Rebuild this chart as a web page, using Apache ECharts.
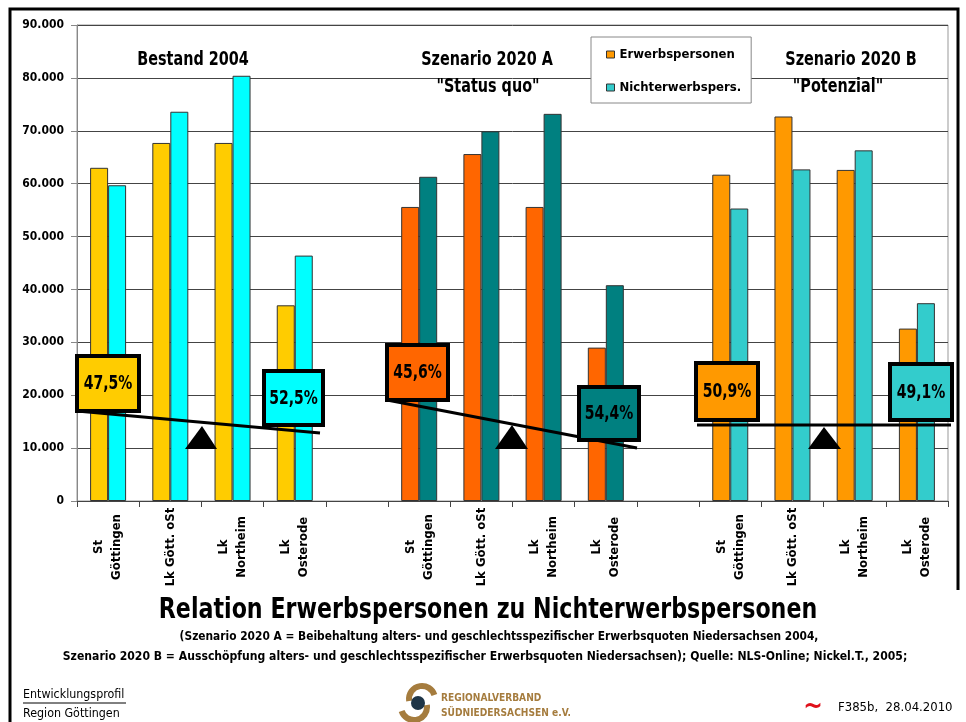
<!doctype html>
<html>
<head>
<meta charset="utf-8">
<title>Relation Erwerbspersonen zu Nichterwerbspersonen</title>
<script src="https://cdn.jsdelivr.net/npm/echarts@6/dist/echarts.min.js"></script>
<style>
	html, body {
		margin: 0;
		padding: 0;
		background: #fff;
	}
	#main {
		width: 966px;
		height: 722px;
	}
</style>
</head>
<body>
<div id="main"></div>
<script type="text/javascript">
	// categories: 3 groups of 4 districts, blank slot between groups
	var categories = [
		'St\nGöttingen', 'Lk Gött. oSt', 'Lk\nNortheim', 'Lk\nOsterode', '',
		'St\nGöttingen', 'Lk Gött. oSt', 'Lk\nNortheim', 'Lk\nOsterode', ' ',
		'St\nGöttingen', 'Lk Gött. oSt', 'Lk\nNortheim', 'Lk\nOsterode'
	];
	var erwerb = [63000, 67700, 67700, 37000, null, 55600, 65600, 55600, 29000, null, 61700, 72700, 62600, 32600];
	var nichterwerb = [59700, 73600, 80400, 46400, null, 61300, 69900, 73200, 40800, null, 55300, 62700, 66300, 37400];
	var groupTitles = [['Bestand 2004'], ['Szenario 2020 A', '"Status quo"'], ['Szenario 2020 B', '"Potenzial"']];
	var shares = [['47,5%', '52,5%'], ['45,6%', '54,4%'], ['50,9%', '49,1%']];
	var colErw = ['#FFCC00', '#FF6600', '#FF9900'];
	var colNicht = ['#00FFFF', '#008080', '#33CCCC'];

	var NARROW = "'Liberation Sans Narrow','Arial Narrow','DejaVu Sans Condensed',sans-serif";

	function groupOf(i) {
		return i < 5 ? 0 : (i < 10 ? 1 : 2);
	}

	var erwData = erwerb.map(function(v, i) {
		return v == null ? '-' : { value: v, itemStyle: { color: colErw[groupOf(i)] } };
	});
	var nichtData = nichterwerb.map(function(v, i) {
		return v == null ? '-' : { value: v, itemStyle: { color: colNicht[groupOf(i)] } };
	});

	// seesaw annotations (pixel layout)
	var seesaw = [
		{ l: [77, 356, 62, 55], r: [264, 371, 59, 54], line: [77, 411, 320, 433], tri: [202, 426, 185, 217] },
		{ l: [387, 345, 61, 55], r: [579, 387, 60, 53], line: [387, 400, 637, 448], tri: [512, 425, 495, 528] },
		{ l: [696, 363, 62, 57], r: [890, 364, 62, 56], line: [697, 425, 951, 425], tri: [824, 427, 808, 841] }
	];
	var titlePos = [[[193, 60]], [[487, 60], [488, 87]], [[851, 60], [838, 87]]];

	// condensed text helper (no narrow font available)
	function txt(x, y, s, font, sx, extra) {
		var st = { text: s, font: font, fill: '#000', align: 'center', verticalAlign: 'middle' };
		for (var k in extra || {}) st[k] = extra[k];
		return { type: 'text', z: 103, x: x, y: y, scaleX: sx, style: st };
	}

	var graphics = [];
	// outer frame
	graphics.push({
		type: 'polyline', z: 100,
		shape: { points: [[958, 590], [958, 9], [10, 9], [10, 722]] },
		style: { stroke: '#000', lineWidth: 3, fill: null }
	});
	groupTitles.forEach(function(t, g) {
		t.forEach(function(s, k) {
			graphics.push(txt(titlePos[g][k][0], titlePos[g][k][1], s, 'bold 20px ' + NARROW, 0.8));
		});
	});
	seesaw.forEach(function(s, g) {
		graphics.push({
			type: 'polygon', z: 100,
			shape: { points: [[s.tri[0], s.tri[1]], [s.tri[3], 449], [s.tri[2], 449]] },
			style: { fill: '#000' }
		});
		graphics.push({
			type: 'line', z: 101,
			shape: { x1: s.line[0], y1: s.line[1], x2: s.line[2], y2: s.line[3] },
			style: { stroke: '#000', lineWidth: 3 }
		});
		[s.l, s.r].forEach(function(b, k) {
			graphics.push({
				type: 'rect', z: 102,
				shape: { x: b[0], y: b[1], width: b[2], height: b[3] },
				style: { fill: k === 0 ? colErw[g] : colNicht[g], stroke: '#000', lineWidth: 4 }
			});
			graphics.push(txt(b[0] + b[2] / 2, b[1] + b[3] / 2 + 1, shares[g][k], 'bold 19px ' + NARROW, 0.82));
		});
	});
	// title and notes
	graphics.push(txt(488, 610, 'Relation Erwerbspersonen zu Nichterwerbspersonen', 'bold 29px ' + NARROW, 0.85));
	graphics.push(txt(499, 637, '(Szenario 2020 A = Beibehaltung alters- und geschlechtsspezifischer Erwerbsquoten Niedersachsen 2004,', 'bold 13px ' + NARROW, 0.91));
	graphics.push(txt(485, 657, 'Szenario 2020 B = Ausschöpfung alters- und geschlechtsspezifischer Erwerbsquoten Niedersachsen); Quelle: NLS-Online; Nickel.T., 2005;', 'bold 13px ' + NARROW, 0.93));
	// footer
	graphics.push(txt(23, 695, 'Entwicklungsprofil', '13px ' + NARROW, 0.95, { align: 'left' }));
	graphics.push({
		type: 'line', z: 100, shape: { x1: 23, y1: 703, x2: 126, y2: 703 },
		style: { stroke: '#000', lineWidth: 1 }
	});
	graphics.push(txt(23, 714, 'Region Göttingen', '13px ' + NARROW, 0.95, { align: 'left' }));
	// logo
	graphics.push({
		type: 'arc', z: 100, shape: { cx: 422, cy: 699, r: 13, startAngle: Math.PI * 0.95, endAngle: Math.PI * 1.9 },
		style: { stroke: '#A57C3E', lineWidth: 6, fill: null }
	});
	graphics.push({
		type: 'arc', z: 100, shape: { cx: 414, cy: 707, r: 13, startAngle: -Math.PI * 0.05, endAngle: Math.PI * 0.9 },
		style: { stroke: '#A57C3E', lineWidth: 6, fill: null }
	});
	graphics.push({
		type: 'circle', z: 101, shape: { cx: 418, cy: 703, r: 7 },
		style: { fill: '#1E3547' }
	});
	graphics.push(txt(441, 698, 'REGIONALVERBAND', 'bold 11px ' + NARROW, 0.92, { align: 'left', fill: '#A57C3E' }));
	graphics.push(txt(441, 713, 'SÜDNIEDERSACHSEN e.V.', 'bold 11px ' + NARROW, 0.92, { align: 'left', fill: '#A57C3E' }));
	graphics.push(txt(813, 707, '~', 'bold 26px ' + NARROW, 1, { fill: '#E0101A' }));
	graphics.push(txt(838, 708, 'F385b,  28.04.2010', '13px ' + NARROW, 1, { align: 'left' }));

	var myChart = echarts.init(document.getElementById('main'));
	var option = {
		animation: false,
		backgroundColor: '#fff',
		grid: {
			left: 77,
			right: 18,
			top: 25,
			bottom: 221,
			show: true,
			borderColor: '#999',
			borderWidth: 1
		},
		legend: {
			orient: 'vertical',
			left: 591,
			top: 37,
			backgroundColor: '#fff',
			borderColor: '#888',
			borderWidth: 1,
			padding: [11, 10, 9, 15],
			itemWidth: 8,
			itemHeight: 7,
			itemGap: 20,
			icon: 'rect',
			itemStyle: { borderColor: '#333', borderWidth: 1 },
			textStyle: { fontFamily: NARROW, fontWeight: 'bold', fontSize: 13, color: '#000' },
			data: ['Erwerbspersonen', 'Nichterwerbspers.']
		},
		xAxis: {
			type: 'category',
			data: categories,
			axisLine: { lineStyle: { color: '#444' } },
			axisTick: { show: true, length: 6, interval: 0, lineStyle: { color: '#444' } },
			axisLabel: {
				interval: 0,
				rotate: 90,
				align: 'center',
				margin: 46,
				lineHeight: 18,
				fontFamily: NARROW,
				fontWeight: 'bold',
				fontSize: 13,
				color: '#000'
			}
		},
		yAxis: {
			type: 'value',
			min: 0,
			max: 90000,
			interval: 10000,
			axisLine: { show: true, lineStyle: { color: '#888' } },
			axisTick: { show: true, length: 6, lineStyle: { color: '#888' } },
			axisLabel: {
				margin: 13,
				fontFamily: NARROW,
				fontWeight: 'bold',
				fontSize: 12,
				color: '#000',
				formatter: function(v) {
					return v === 0 ? '0' : (v / 1000) + '.000';
				}
			},
			splitLine: { lineStyle: { color: '#444' } }
		},
		series: [{
			name: 'Erwerbspersonen',
			type: 'bar',
			barWidth: 18,
			barGap: '0%',
			itemStyle: { color: '#FF9900', borderColor: '#333', borderWidth: 1 },
			data: erwData
		}, {
			name: 'Nichterwerbspers.',
			type: 'bar',
			barWidth: 18,
			barGap: '0%',
			itemStyle: { color: '#33CCCC', borderColor: '#333', borderWidth: 1 },
			data: nichtData
		}],
		graphic: graphics
	};
	myChart.setOption(option, true);
</script>
</body>
</html>
